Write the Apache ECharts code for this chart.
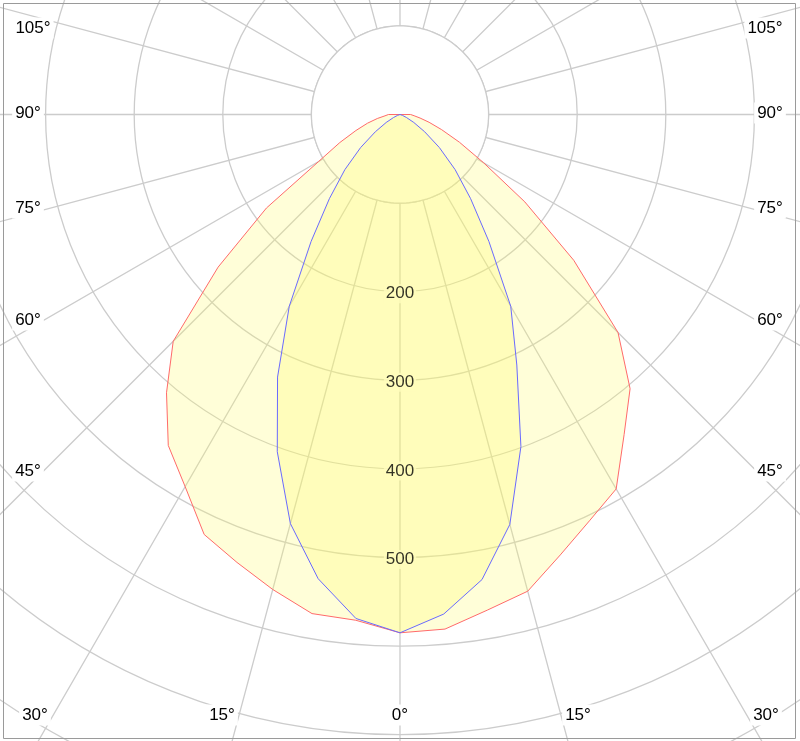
<!DOCTYPE html>
<html>
<head>
<meta charset="utf-8">
<script src="https://cdn.jsdelivr.net/npm/echarts@6/dist/echarts.min.js"></script>
<style>
html,body{margin:0;padding:0;background:#fff;}
#chart{width:800px;height:741px;}
</style>
</head>
<body>
<div id="chart"></div>
<script>
// ---- data ----
const gammaAngles = [0,5,10,15,20,25,30,35,40,45,50,55,60,65,70,75,80,85,90];
// red curve (C90 right / C270 left)
const redRight = [585,583,568,557,529,506,488,441,404,348,256,172,109,74,50,34,23,16,12];
const redLeft  = [585,573,572,555,538,523,485,456,410,362,268,184,106,75,53,38,26,17,13];
// blue curve (C0 right / C180 left)
const blueRight = [585,566,533,479,399,312,250,175,124,88,58,34,18,8,3,1,0,0,0];
const blueLeft  = [585,571,532,478,405,327,250,175,124,88,58,34,18,8,3,1,0,0,0];
const radialTicks = [200,300,400,500];
const angleTickLabels = ['105°','90°','75°','60°','45°','105°','90°','75°','60°','45°','30°','15°','0°','15°','30°'];

// ---- build ----
function buildCurve(right, left){
  const pts = [];
  gammaAngles.forEach((g,i)=>pts.push([right[i], g]));
  for(let i=gammaAngles.length-1;i>=0;i--) pts.push([left[i], 360-gammaAngles[i]]);
  return pts;
}
const discPts = [];
for(let a=0;a<=360;a+=2) discPts.push([100,a]);

const labelLayout = [
  [33,28],[28,113],[28,208],[28,320],[28,471],
  [765,28],[770,113],[770,208],[770,320],[770,471],
  [35,715],[222,715],[400,715],[578,715],[766,715]
];
const FONT = '"Liberation Sans", Arial, sans-serif';
const graphics = angleTickLabels.map((t,i)=>({
  type:'text', z:100,
  x: labelLayout[i][0], y: labelLayout[i][1],
  style:{text:t, fill:'#000', font:'17px '+FONT, align:'center', verticalAlign:'middle',
         backgroundColor:'#fff', padding:[2,3]}
}));
graphics.push({type:'rect', z:101, shape:{x:3.5,y:3.5,width:792,height:735},
  style:{fill:'none', stroke:'#9a9a9a', lineWidth:1}});

const chart = echarts.init(document.getElementById('chart'), null, {renderer:'canvas'});
chart.setOption({
  animation:false,
  backgroundColor:'#fff',
  polar:{center:[400,114.5], radius:797.4},
  angleAxis:{type:'value', min:0, max:360, interval:15, startAngle:270, clockwise:false,
    axisLine:{show:false}, axisTick:{show:false}, axisLabel:{show:false},
    splitLine:{show:true, lineStyle:{color:'#cccccc', width:1.3}}},
  radiusAxis:{type:'value', min:0, max:900, interval:100,
    axisLine:{show:false}, axisTick:{show:false}, axisLabel:{show:false},
    splitLine:{show:true, lineStyle:{color:'#cccccc', width:1.3}}},
  series:[
    {type:'line', coordinateSystem:'polar', data:discPts, symbol:'none', z:1,
     lineStyle:{color:'#cccccc', width:1.3}, areaStyle:{color:'#ffffff', opacity:1}, silent:true},
    {type:'line', coordinateSystem:'polar', data:buildCurve(redRight, redLeft), symbol:'none', z:2,
     lineStyle:{color:'#ff6a6a', width:1}, areaStyle:{color:'rgba(255,250,100,0.25)', opacity:1}},
    {type:'line', coordinateSystem:'polar', data:buildCurve(blueRight, blueLeft), symbol:'none', z:3,
     lineStyle:{color:'#6a6aff', width:1}, areaStyle:{color:'rgba(255,250,100,0.25)', opacity:1}},
    {type:'scatter', coordinateSystem:'polar', z:10, symbolSize:0,
     data: radialTicks.map(v=>[v,0]),
     label:{show:true, position:'inside', offset:[0,2], formatter:p=>String(p.value[0]),
       color:'#000', fontSize:17, fontFamily:FONT, backgroundColor:'rgb(255,253,188)', padding:[1,2]}}
  ],
  graphic: graphics
});
</script>
</body>
</html>
